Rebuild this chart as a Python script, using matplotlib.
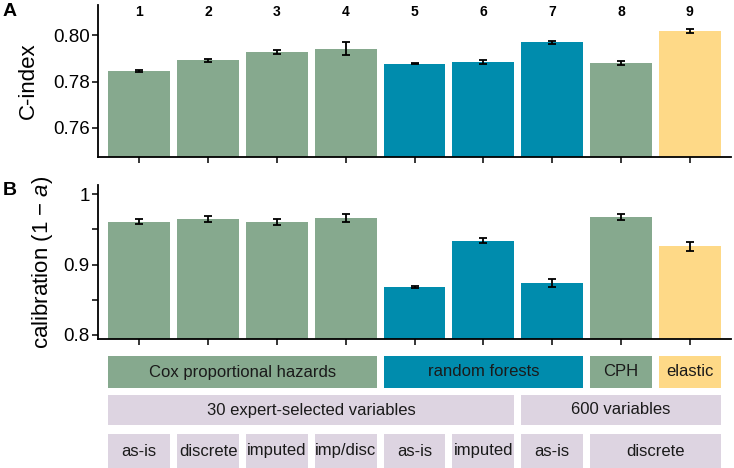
import numpy as np
import matplotlib
matplotlib.use("Agg")
import matplotlib.pyplot as plt
from matplotlib.patches import Rectangle

plt.rcParams['font.family'] = ['Liberation Sans', 'DejaVu Sans']
plt.rcParams['mathtext.fontset'] = 'custom'
plt.rcParams['mathtext.rm'] = 'Liberation Sans'
plt.rcParams['mathtext.it'] = 'Liberation Sans:italic'

# ------------------------------------------------------
# data
# ------------------------------------------------------
model_ids = [1, 2, 3, 4, 5, 6, 7, 8, 9]
model_type = ["cox", "cox", "cox", "cox", "rf", "rf", "rf", "cox", "elastic"]

cindex = [0.7845, 0.7892, 0.7926, 0.7942, 0.7877, 0.7884, 0.7970, 0.7880, 0.8017]
cindex_err = [0.0003, 0.0006, 0.0008, 0.0028, 0.0002, 0.0009, 0.0007, 0.0009, 0.0009]

calib = [0.961, 0.965, 0.960, 0.966, 0.868, 0.934, 0.874, 0.967, 0.926]
calib_err = [0.0035, 0.0045, 0.0045, 0.0060, 0.0010, 0.0030, 0.0055, 0.0040, 0.0065]

# strip rows: (label, first model, last model, colour key)
row_method = [("Cox proportional hazards", 1, 4, "cox"),
              ("random forests", 5, 7, "rf"),
              ("CPH", 8, 8, "cox"),
              ("elastic", 9, 9, "elastic")]
row_vars = [("30 expert-selected variables", 1, 6, "var"),
            ("600 variables", 7, 9, "var")]
row_prep = [("as-is", 1, 1, "var"), ("discrete", 2, 2, "var"),
            ("imputed", 3, 3, "var"), ("imp/disc", 4, 4, "var"),
            ("as-is", 5, 5, "var"), ("imputed", 6, 6, "var"),
            ("as-is", 7, 7, "var"), ("discrete", 8, 9, "var")]

COLORS = {"cox": "#86A98E", "rf": "#008CAD", "elastic": "#FED987", "var": "#DDD4E1"}
bar_colors = [COLORS[t] for t in model_type]

W, H = 734, 468
fig = plt.figure(figsize=(W / 100, H / 100), dpi=100)


def px_axes(left, top, right, bottom):
    return fig.add_axes([left / W, 1 - bottom / H, (right - left) / W, (bottom - top) / H])


def style(ax):
    for s in ["top", "right"]:
        ax.spines[s].set_visible(False)
    for s in ["left", "bottom"]:
        ax.spines[s].set_linewidth(1.3)
    ax.tick_params(axis="both", length=4, width=1.1, labelsize=13.5, color="black", pad=2)
    ax.set_xticks(model_ids)
    ax.set_xticklabels([])
    ax.set_xlim(0.4, 9.6)


# ------------------------------------------------------
# A) C-index
# ------------------------------------------------------
axA = px_axes(98, 5, 731, 157)
axA.bar(model_ids, cindex, width=0.9, color=bar_colors)
axA.errorbar(model_ids, cindex, yerr=cindex_err, fmt="none", ecolor="black",
             elinewidth=1.3, capsize=3, capthick=1.3)
axA.set_ylim(0.7475, 0.813)
axA.set_yticks([0.76, 0.78, 0.80])
axA.set_yticklabels(["0.76", "0.78", "0.80"])
style(axA)
axA.set_ylabel("C-index", fontsize=16)
axA.yaxis.set_label_coords(-0.093, 0.5)
for i in model_ids:
    axA.text(i, 0.81, str(i), ha="center", va="center", fontsize=10, fontweight="bold")

# ------------------------------------------------------
# B) calibration
# ------------------------------------------------------
axB = px_axes(98, 185, 731, 339)
axB.bar(model_ids, calib, width=0.9, color=bar_colors)
axB.errorbar(model_ids, calib, yerr=calib_err, fmt="none", ecolor="black",
             elinewidth=1.3, capsize=3, capthick=1.3)
axB.set_ylim(0.7943, 1.0128)
axB.set_yticks([0.8, 0.85, 0.9, 0.95, 1.0])
axB.set_yticklabels(["0.8", "", "0.9", "", "1"])
style(axB)
axB.set_ylabel("calibration (1 \u2212 $a$)", fontsize=16)
axB.yaxis.set_label_coords(-0.068, 0.5)

fig.text(3 / W, 1 - 11.5 / H, "A", fontsize=14, fontweight="bold", va="center", ha="left")
fig.text(3 / W, 1 - 190.5 / H, "B", fontsize=14, fontweight="bold", va="center", ha="left")

# ------------------------------------------------------
# strips under the bars
# ------------------------------------------------------
axS = px_axes(98, 356, 731, 468)
axS.set_xlim(0.4, 9.6)
axS.set_ylim(112, 0)
axS.axis("off")

row_spans = [(0, 32), (39, 69), (78, 112)]
for rows, (y0, y1) in zip([row_method, row_vars, row_prep], row_spans):
    for label, first, last, key in rows:
        x0 = first - 0.45
        x1 = last + 0.45
        axS.add_patch(Rectangle((x0, y0), x1 - x0, y1 - y0, facecolor=COLORS[key],
                                edgecolor="none"))
        axS.text((x0 + x1) / 2, (y0 + y1) / 2, label, ha="center", va="center",
                 fontsize=12, color="#1A1A1A")

fig.savefig("out.png", dpi=100)
